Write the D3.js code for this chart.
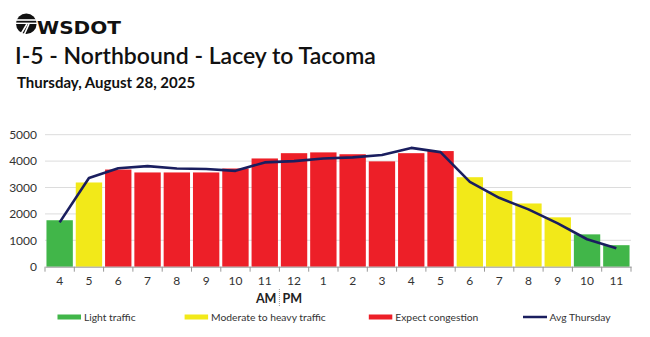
<!DOCTYPE html>
<html><head><meta charset="utf-8">
<script src="https://cdn.jsdelivr.net/npm/d3@7"></script>
<style>
html,body{margin:0;padding:0;background:#fff;}
svg{display:block;font-family:Lato, "Open Sans", sans-serif;}
</style></head>
<body><svg id="c" width="650" height="337"></svg>
<script>
const hours = ["4","5","6","7","8","9","10","11","12","1","2","3","4","5","6","7","8","9","10","11"];
const volumes = [1760,3190,3680,3570,3570,3570,3720,4100,4300,4330,4260,3990,4300,4380,3390,2865,2395,1870,1225,815];
const avgThursday = [1680,3360,3730,3810,3720,3700,3630,3950,4000,4100,4140,4230,4500,4340,3210,2610,2170,1640,1040,700];
const levels = ["light","moderate","heavy","heavy","heavy","heavy","heavy","heavy","heavy","heavy","heavy","heavy","heavy","heavy","moderate","moderate","moderate","moderate","light","light"];
const yTicks = [0,1000,2000,3000,4000,5000];
const legendItems = [["light","Light traffic"],["moderate","Moderate to heavy traffic"],["heavy","Expect congestion"],["avg","Avg Thursday"]];
const colors = {light:"#41b649", moderate:"#f2e919", heavy:"#ed1f28", avg:"#1a1e5f"};

const svg = d3.select("#c");
const L = 45, R = 631, T = 134.7, B = 266.7;
const idx = hours.map((h,i)=>i);
const x = d3.scaleBand().domain(idx).range([L,R]).paddingInner(0.1).paddingOuter(0.05);
const y = d3.scaleLinear().domain([0,5000]).range([B,T]);

// Logo
const logo = svg.append("g");
logo.append("circle").attr("cx",26.3).attr("cy",23.7).attr("r",10.3).attr("fill","#111");
logo.append("rect").attr("x",15).attr("y",19.2).attr("width",23).attr("height",1.6).attr("fill","#fff");
logo.append("rect").attr("x",15).attr("y",22.6).attr("width",23).attr("height",1.4).attr("fill","#fff");
logo.append("path").attr("d","M27 24 L21 34 M29 24 L24 35").attr("stroke","#fff").attr("stroke-width",1.6);
svg.append("text").attr("x",37).attr("y",34).attr("font-family","'DejaVu Sans', sans-serif").attr("font-weight",900)
  .attr("font-size",18.5).attr("fill","#111").attr("textLength",84).attr("lengthAdjust","spacingAndGlyphs").text("WSDOT");

// Titles
svg.append("text").attr("x",15).attr("y",63.5).attr("font-size",23).attr("font-weight",600).attr("fill","#111")
  .text("I-5 - Northbound - Lacey to Tacoma");
svg.append("text").attr("x",17).attr("y",87.5).attr("font-size",15).attr("font-weight",700).attr("fill","#111")
  .text("Thursday, August 28, 2025");

// Grid
svg.append("g").selectAll("line").data(yTicks.slice(1)).join("line")
  .attr("x1",L).attr("x2",R).attr("y1",d=>y(d)).attr("y2",d=>y(d))
  .attr("stroke","#dcdcdc").attr("stroke-width",1);

// Y axis labels
const yAxis = d3.axisLeft(y).tickValues(yTicks).tickFormat(d3.format("d")).tickSize(0).tickPadding(8);
const ya = svg.append("g").attr("transform",`translate(${L},0)`).call(yAxis);
ya.select(".domain").remove();
ya.selectAll("text").attr("font-family","Lato, sans-serif").attr("font-size",12).attr("fill","#333");

// Bars
svg.append("g").selectAll("rect").data(idx).join("rect")
  .attr("x",i=>x(i)).attr("width",x.bandwidth())
  .attr("y",i=>y(volumes[i])).attr("height",i=>B-y(volumes[i]))
  .attr("fill",i=>colors[levels[i]]);

// X axis
const xAxis = d3.axisBottom(x).tickFormat(i=>hours[i]).tickSize(0).tickPadding(10);
const xa = svg.append("g").attr("transform",`translate(0,${B})`).call(xAxis);
xa.select(".domain").attr("stroke","#999");
xa.selectAll("text").attr("font-family","Lato, sans-serif").attr("font-size",12).attr("fill","#333");
const step = x.step();
const bounds = d3.range(hours.length+1).map(k=>L + k*step);
svg.append("g").selectAll("line").data(bounds).join("line")
  .attr("x1",d=>d).attr("x2",d=>d).attr("y1",B).attr("y2",B+5).attr("stroke","#999");

// Avg line
const line = d3.line().x((d,i)=>x(i)+x.bandwidth()/2).y(d=>y(d));
svg.append("path").datum(avgThursday).attr("d",line).attr("fill","none")
  .attr("stroke",colors.avg).attr("stroke-width",2.6).attr("stroke-linejoin","round");

// AM | PM
const sep = L + 8*step;
svg.append("text").attr("x",sep-3).attr("y",302.5).attr("text-anchor","end").attr("font-size",12.5).attr("font-weight",700).attr("fill","#222").text("AM");
svg.append("text").attr("x",sep+3).attr("y",302.5).attr("font-size",12.5).attr("font-weight",700).attr("fill","#222").text("PM");
svg.append("line").attr("x1",sep).attr("x2",sep).attr("y1",289).attr("y2",306).attr("stroke","#999").attr("stroke-dasharray","1,1");

// Legend
const lgX = [57.5,184.6,368.8,523];
const lg = svg.append("g");
legendItems.forEach(([k,label],i)=>{
  if(k==="avg"){
    lg.append("line").attr("x1",lgX[i]).attr("x2",lgX[i]+24).attr("y1",317).attr("y2",317).attr("stroke",colors.avg).attr("stroke-width",2.5);
  } else {
    lg.append("rect").attr("x",lgX[i]).attr("y",314.5).attr("width",23.5).attr("height",5).attr("fill",colors[k]);
  }
  lg.append("text").attr("x",lgX[i]+26.5).attr("y",321).attr("font-size",10.3).attr("fill","#333").text(label);
});
</script></body></html>
